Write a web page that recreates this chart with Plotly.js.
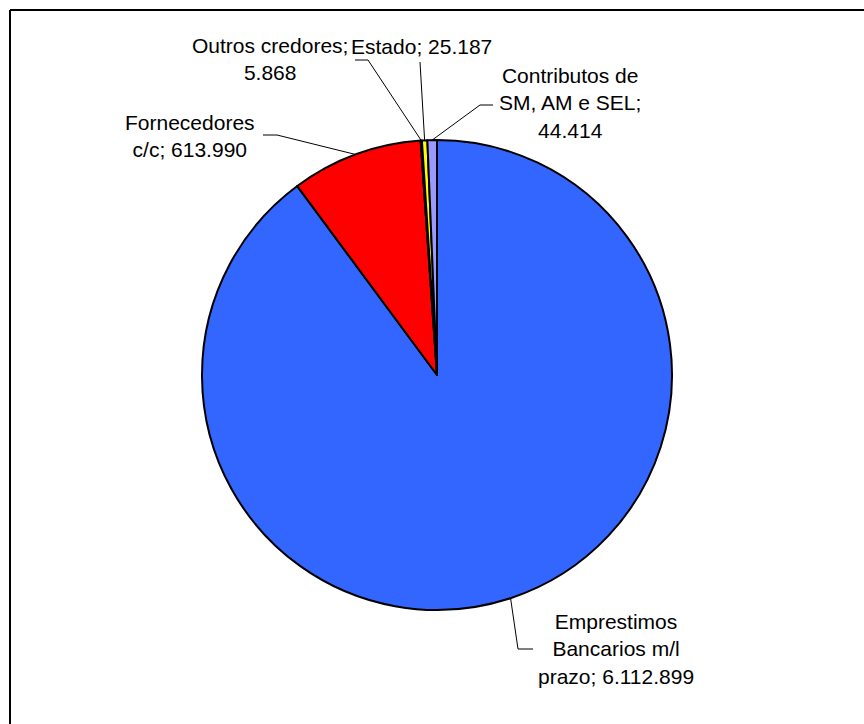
<!DOCTYPE html>
<html>
<head>
<meta charset="utf-8">
<script src="https://cdn.plot.ly/plotly-3.0.1.min.js"></script>
<style>html,body{margin:0;padding:0;background:#fff;}#chart{width:864px;height:724px;}</style>
</head>
<body>
<div id="chart"></div>
<script>
// ---- data ----
var categories = ['Emprestimos Bancarios m/l prazo', 'Fornecedores c/c', 'Outros credores', 'Estado', 'Contributos de SM, AM e SEL'];
var values = [6112899, 613990, 5868, 25187, 44414];
var labelNames = ['Emprestimos<br>Bancarios m/l<br>prazo', 'Fornecedores<br>c/c', 'Outros credores', 'Estado', 'Contributos de<br>SM, AM e SEL'];
var labelSeps = ['; ', '; ', ';<br>', '; ', ';<br>'];
var colors = ['#3366FF', '#FF0000', '#993366', '#FFFF00', '#9999FF'];

// ---- layout geometry (pixels) ----
var W = 864, H = 724;
var cx = 437, cy = 375, R = 235;
// label centres and leader-line elbows (pixels)
var labelPos = [[616, 649], [190, 135.5], [270, 58.5], [421.5, 46], [570, 103]];
var elbows = [
  [[533, 649], [518, 649]],
  [[263, 135], [277, 135]],
  [[355, 60], [368, 60]],
  [[420, 62], [420, 62]],
  [[493, 105], [480, 105]]
];

function px(x) { return x / W; }
function py(y) { return 1 - y / H; }
function fmt(v) { return String(v).replace(/\B(?=(\d{3})+(?!\d))/g, '.'); }

var total = values.reduce(function (a, b) { return a + b; }, 0);
var annotations = [], shapes = [];
var cum = 0;
for (var i = 0; i < values.length; i++) {
  var mid = (cum + values[i] / 2) / total * 2 * Math.PI;
  cum += values[i];
  var ex = cx + R * Math.sin(mid), ey = cy - R * Math.cos(mid);
  annotations.push({
    text: labelNames[i] + labelSeps[i] + fmt(values[i]),
    x: px(labelPos[i][0]), y: py(labelPos[i][1]), xref: 'paper', yref: 'paper',
    xanchor: 'center', yanchor: 'middle', align: 'center', showarrow: false,
    font: {family: 'Liberation Sans, Arial, sans-serif', size: 21, color: '#000'}
  });
  var e = elbows[i];
  shapes.push({
    type: 'path', xref: 'paper', yref: 'paper',
    path: 'M ' + px(e[0][0]) + ' ' + py(e[0][1]) + ' L ' + px(e[1][0]) + ' ' + py(e[1][1]) + ' L ' + px(ex) + ' ' + py(ey),
    line: {color: '#000', width: 1}
  });
}
// frame (top and left edges)
shapes.push({type: 'line', xref: 'paper', yref: 'paper', x0: px(10), y0: py(10), x1: 1.01, y1: py(10), line: {color: '#000', width: 2}});
shapes.push({type: 'line', xref: 'paper', yref: 'paper', x0: px(10), y0: py(10), x1: px(10), y1: -0.01, line: {color: '#000', width: 2}});

var trace = {
  type: 'pie',
  labels: categories,
  values: values,
  sort: false,
  direction: 'clockwise',
  rotation: 0,
  textinfo: 'none',
  hoverinfo: 'label+value',
  marker: {colors: colors, line: {color: '#000', width: 2}},
  domain: {x: [px(cx - R), px(cx + R)], y: [py(cy + R), py(cy - R)]},
  showlegend: false
};

var layout = {
  width: W, height: H,
  margin: {l: 0, r: 0, t: 0, b: 0},
  paper_bgcolor: '#fff',
  showlegend: false,
  annotations: annotations,
  shapes: shapes
};

Plotly.newPlot('chart', [trace], layout, {displayModeBar: false, staticPlot: true});
</script>
</body>
</html>
